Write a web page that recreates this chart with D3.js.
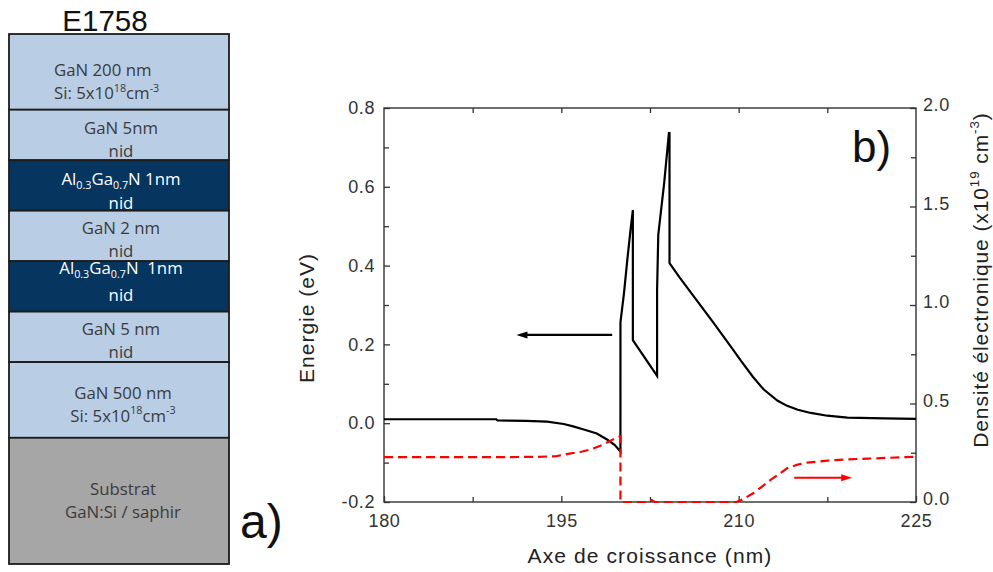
<!DOCTYPE html>
<html><head><meta charset="utf-8">
<script src="https://cdn.jsdelivr.net/npm/d3@7"></script>
<style>
body{margin:0;background:#fff}
svg{display:block}
text{white-space:pre}
</style>
</head><body>
<svg id="c" width="993" height="572"></svg>
<script>
// ---------------- data ----------------
const sampleName = "E1758";
const layerTypes = ["gan","gan","algan","gan","algan","gan","gan","substrate"];
const layerUnits = [1.5, 1, 1, 1, 1, 1, 1.5, 2.5];   // schematic thickness units
const layerLines = [
  [[["GaN 200 nm",""]], [["Si: 5x10",""],["18","sup"],["cm",""],["-3","sup"]]],
  [[["GaN 5nm",""]], [["nid",""]]],
  [[["Al",""],["0.3","sub"],["Ga",""],["0.7","sub"],["N 1nm",""]], [["nid",""]]],
  [[["GaN 2 nm",""]], [["nid",""]]],
  [[["Al",""],["0.3","sub"],["Ga",""],["0.7","sub"],["N  1nm",""]], [["nid",""]]],
  [[["GaN 5 nm",""]], [["nid",""]]],
  [[["GaN 500 nm",""]], [["Si: 5x10",""],["18","sup"],["cm",""],["-3","sup"]]],
  [[["Substrat",""]], [["GaN:Si / saphir",""]]]
];

// conduction band energy (eV) vs growth axis (nm)
const energyX = [180, 185, 189.5, 189.6, 192, 193.8, 195.2, 196.0, 196.9, 198.0, 198.9, 199.5, 200.0,
  200.0, 200.3, 200.6, 200.85, 201.05, 201.05, 203.1, 203.1, 203.2, 203.7, 204.1, 204.15, 204.15,
  205.0, 206.2, 207.8, 209.4, 210.2, 211.2, 212.1, 213.3, 214.1, 215.0, 216.1, 217.5, 219.2, 222.3, 225];
const energyY = [0.010, 0.010, 0.010, 0.007, 0.006, 0.004, -0.002, -0.008, -0.016, -0.026, -0.042, -0.055, -0.072,
  0.256, 0.33, 0.42, 0.49, 0.541, 0.211, 0.120, 0.338, 0.478, 0.61, 0.736, 0.736, 0.406,
  0.370, 0.322, 0.258, 0.192, 0.158, 0.118, 0.086, 0.057, 0.044, 0.034, 0.026, 0.019, 0.014, 0.012, 0.011];

// electron density (x1e19 cm^-3) vs growth axis (nm)
const densityX = [180, 185, 190, 193, 194.6, 195.8, 196.7, 197.5, 198.3, 199.0, 199.6, 200.0,
  200.0, 202.4, 202.65, 202.9, 209.8, 210.3, 211.3, 212.7, 214.1, 215.0, 215.8, 217.5, 219.0, 220.9, 225];
const densityY = [0.228, 0.228, 0.228, 0.229, 0.233, 0.247, 0.255, 0.267, 0.285, 0.306, 0.325, 0.333,
  0.0, 0.0, 0.01, 0.0, 0.0, 0.012, 0.047, 0.112, 0.171, 0.19, 0.200, 0.210, 0.216, 0.220, 0.230];

// axis arrows: [tail x, head x] at given value
const arrowEnergyX = [199.3, 191.2], arrowEnergyY = 0.224;
const arrowDensityX = [214.7, 219.6], arrowDensityY = 0.123;

const xMajor = [180, 195, 210, 225];
const xMinor = [187.5, 202.5, 217.5];
const yLeftMajor = [-0.2, 0.0, 0.2, 0.4, 0.6, 0.8];
const yLeftMinor = [-0.1, 0.1, 0.3, 0.5, 0.7];
const yRightMajor = [0.0, 0.5, 1.0, 1.5, 2.0];
const yRightMinor = [0.25, 0.75, 1.25, 1.75];

const xTitle = "Axe de croissance (nm)";
const yLeftTitle = "Energie (eV)";
const yRightTitle = [["Densité électronique (x10",""],["19","sup"],[" cm",""],["-3","sup"],[")",""]];

// ---------------- drawing ----------------
const svg = d3.select("#c");
const SANS = "'Liberation Sans', Arial, sans-serif";
const STACK_FONT = "'Open Sans', 'Noto Sans', sans-serif";

function rich(textSel, segs, fs) {
  let off = 0;
  segs.forEach(([s, t]) => {
    const target = t === "sup" ? -fs * 0.42 : t === "sub" ? fs * 0.22 : 0;
    const ts = textSel.append("tspan").text(s).attr("dy", target - off);
    if (t) ts.attr("font-size", fs * 0.64);
    off = target;
  });
}

// ---- panel a) layer stack ----
const stackX0 = 9, stackX1 = 229;
const cum = [0]; layerUnits.forEach(u => cum.push(cum[cum.length - 1] + u));
const yL = d3.scaleLinear().domain([0, cum[cum.length - 1]]).range([34, 564]);
const fills = {gan: "#b9cde5", algan: "#06355f", substrate: "#a6a6a6"};
const textCol = {gan: "#3b3b3b", algan: "#ffffff", substrate: "#3b3b3b"};
const FS = 16.8;

const layers = svg.append("g");
layerTypes.forEach((t, i) => {
  const y0 = yL(cum[i]), y1 = yL(cum[i + 1]);
  layers.append("rect").attr("x", stackX0).attr("y", y0).attr("width", stackX1 - stackX0).attr("height", y1 - y0)
    .attr("fill", fills[t]).attr("stroke", "#1c1c1c").attr("stroke-width", 1.8);
});
layerTypes.forEach((t, i) => {
  const y0 = yL(cum[i]), y1 = yL(cum[i + 1]);
  const mid = (y0 + y1) / 2;
  let nudge = 4, half = 11.5;
  if (i === 0) nudge = 10;
  if (i === 2) { nudge = 6; half = 12; }
  if (i === 4) { nudge = -5; half = 13.5; }
  if (i === 7) nudge = 0;
  const leftAlign = i === 0;
  const cx = i >= 6 ? 123 : 121;
  layerLines[i].forEach((segs, k) => {
    const cy = mid + nudge + (k === 0 ? -half : half);
    const tx = layers.append("text")
      .attr("x", leftAlign ? 54 : cx).attr("y", cy + FS * 0.36)
      .attr("text-anchor", leftAlign ? "start" : "middle")
      .attr("font-family", STACK_FONT).attr("font-size", FS).attr("fill", textCol[t]);
    rich(tx, segs, FS);
  });
});
svg.append("text").attr("x", 105).attr("y", 31).attr("text-anchor", "middle")
  .attr("font-family", SANS).attr("font-size", 29.5).attr("fill", "#111").text(sampleName);
svg.append("text").attr("x", 240).attr("y", 538)
  .attr("font-family", SANS).attr("font-size", 48).attr("fill", "#111").text("a)");

// ---- panel b) band diagram ----
const x = d3.scaleLinear().domain([180, 225]).range([384, 916]);
const yE = d3.scaleLinear().domain([-0.2, 0.8]).range([502, 108]);
const yN = d3.scaleLinear().domain([0, 2]).range([502, 108]);
const axisCol = "#333";

const g = svg.append("g");

function styleAxis(sel) {
  sel.select(".domain").remove();
  sel.selectAll("line").attr("stroke", axisCol).attr("stroke-width", 1.3);
  sel.selectAll("text").attr("font-family", SANS).attr("font-size", 18).attr("fill", "#333")
    .attr("letter-spacing", "0.6px");
}

// frame
g.append("rect").attr("x", x(180)).attr("y", yE(0.8)).attr("width", x(225) - x(180)).attr("height", yE(-0.2) - yE(0.8))
  .attr("fill", "none").attr("stroke", axisCol).attr("stroke-width", 1.4);

// bottom
g.append("g").attr("transform", `translate(0,${yE(-0.2)})`)
  .call(d3.axisBottom(x).tickValues(xMajor).tickSize(-6).tickPadding(12).tickFormat(d3.format("d")))
  .call(styleAxis);
g.append("g").attr("transform", `translate(0,${yE(-0.2)})`)
  .call(d3.axisBottom(x).tickValues(xMinor).tickSize(-5).tickFormat(""))
  .call(styleAxis);
// top
g.append("g").attr("transform", `translate(0,${yE(0.8)})`)
  .call(d3.axisTop(x).tickValues(xMinor.concat(xMajor.slice(1, 3))).tickSize(-5).tickFormat(""))
  .call(styleAxis);
// left
g.append("g").attr("transform", `translate(${x(180)},0)`)
  .call(d3.axisLeft(yE).tickValues(yLeftMajor).tickSize(-6).tickPadding(9).tickFormat(d3.format(".1f")))
  .call(styleAxis);
g.append("g").attr("transform", `translate(${x(180)},0)`)
  .call(d3.axisLeft(yE).tickValues(yLeftMinor).tickSize(-5).tickFormat(""))
  .call(styleAxis);
// right
const rightAx = g.append("g").attr("transform", `translate(${x(225)},0)`)
  .call(d3.axisRight(yN).tickValues(yRightMajor).tickSize(-6).tickPadding(7).tickFormat(d3.format(".1f")))
  .call(styleAxis);
rightAx.selectAll("text").attr("transform", "translate(0,-3)");
g.append("g").attr("transform", `translate(${x(225)},0)`)
  .call(d3.axisRight(yN).tickValues(yRightMinor).tickSize(-5).tickFormat(""))
  .call(styleAxis);
g.selectAll(".tick text").text(function () { return this.textContent.replace("−", "-"); });

// axis titles
svg.append("text").attr("x", 650).attr("y", 563).attr("text-anchor", "middle")
  .attr("font-family", SANS).attr("font-size", 21).attr("letter-spacing", "1.1px").attr("fill", "#222").text(xTitle);
svg.append("text").attr("transform", "translate(314,318) rotate(-90)").attr("text-anchor", "middle")
  .attr("font-family", SANS).attr("font-size", 21).attr("letter-spacing", "1px").attr("fill", "#222").text(yLeftTitle);
const rt = svg.append("text").attr("transform", "translate(987.5,280) rotate(-90)").attr("text-anchor", "middle")
  .attr("font-family", SANS).attr("font-size", 21).attr("letter-spacing", "0.9px").attr("fill", "#222");
rich(rt, yRightTitle, 21);

// curves
const energyPts = energyX.map((v, i) => [v, energyY[i]]);
const densityPts = densityX.map((v, i) => [v, densityY[i]]);
g.append("path").datum(energyPts)
  .attr("d", d3.line().x(d => x(d[0])).y(d => yE(d[1])))
  .attr("fill", "none").attr("stroke", "#000").attr("stroke-width", 2.2).attr("stroke-linejoin", "miter");
g.append("path").datum(densityPts)
  .attr("d", d3.line().x(d => x(d[0])).y(d => yN(d[1])))
  .attr("fill", "none").attr("stroke", "#ff0000").attr("stroke-width", 2.2).attr("stroke-dasharray", "9,5");

// arrows
function arrow(xs, yv, yScale, col) {
  const xt = x(xs[0]), xh = x(xs[1]), yy = yScale(yv);
  const dir = Math.sign(xh - xt);
  g.append("line").attr("x1", xt).attr("x2", xh - dir * 6).attr("y1", yy).attr("y2", yy)
    .attr("stroke", col).attr("stroke-width", 2.2);
  g.append("path").attr("d", `M${xh},${yy} L${xh - dir * 11},${yy - 3.5} L${xh - dir * 11},${yy + 3.5} Z`)
    .attr("fill", col);
}
arrow(arrowEnergyX, arrowEnergyY, yE, "#000");
arrow(arrowDensityX, arrowDensityY, yN, "#ff0000");

svg.append("text").attr("x", 852).attr("y", 162)
  .attr("font-family", SANS).attr("font-size", 44).attr("fill", "#111").text("b)");
</script>
</body></html>
